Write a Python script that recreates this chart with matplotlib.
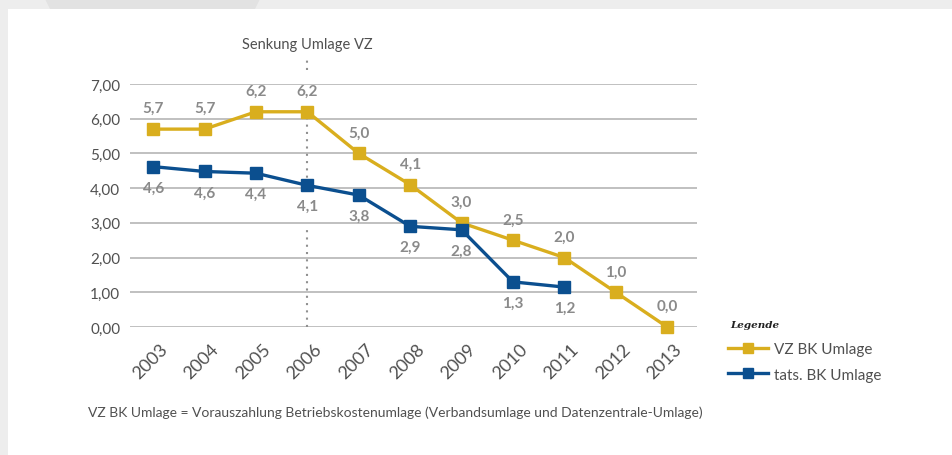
import matplotlib
matplotlib.use("Agg")
import matplotlib.pyplot as plt
import matplotlib.transforms as mtrans
from matplotlib.patches import Rectangle, Polygon
from matplotlib.lines import Line2D

years = ["2003", "2004", "2005", "2006", "2007", "2008", "2009", "2010", "2011", "2012", "2013"]
vz_values = [5.7, 5.7, 6.2, 6.2, 5.0, 4.1, 3.0, 2.5, 2.0, 1.0, 0.0]
vz_labels = ["5,7", "5,7", "6,2", "6,2", "5,0", "4,1", "3,0", "2,5", "2,0", "1,0", "0,0"]
tats_values = [4.62, 4.48, 4.43, 4.08, 3.80, 2.90, 2.80, 1.30, 1.15]
tats_labels = ["4,6", "4,6", "4,4", "4,1", "3,8", "2,9", "2,8", "1,3", "1,2"]
y_ticks = [0, 1, 2, 3, 4, 5, 6, 7]
y_ticklabels = ["0,00", "1,00", "2,00", "3,00", "4,00", "5,00", "6,00", "7,00"]
marker_year_index = 3

GOLD = "#D9AE1E"
BLUE = "#0B4F8F"
LABEL = "#8a8a8a"
TEXT = "#505050"
FONT = "Lato"

fig = plt.figure(figsize=(9.53, 4.56), dpi=100)
fig.patch.set_facecolor("#ededed")
# white page card
fig.patches.append(Rectangle((8 / 953, 0), 1, 1 - 10 / 456, transform=fig.transFigure,
                             facecolor="white", edgecolor="none", zorder=-2))
fig.patches.append(Polygon([(45 / 953, 1), (260 / 953, 1), (255 / 953, 1 - 10 / 456), (50 / 953, 1 - 10 / 456)],
                           closed=True, transform=fig.transFigure, facecolor="#e2e2e2", edgecolor="none", zorder=-2))

ax = fig.add_axes([130 / 953, 1 - 328 / 456, (697 - 130) / 953, (328 - 85) / 456])
ax.set_zorder(2)
ax.set_facecolor("none")
x = list(range(len(years)))
xt = x[:len(tats_values)]

ax.set_xlim(-0.45, 10.58)
ax.set_ylim(0, 7)
for s in ax.spines.values():
    s.set_visible(False)
ax.set_yticks(y_ticks)
ax.set_yticklabels(y_ticklabels, fontsize=11, color=TEXT, fontfamily=FONT)
ax.set_xticks(x)
ax.set_xticklabels(years, rotation=45, ha="right", va="center", rotation_mode="anchor",
                   fontsize=13, color=TEXT, fontfamily=FONT)
ax.tick_params(length=0, pad=7)
ax.tick_params(axis="x", pad=14)
off = mtrans.ScaledTranslation(12 / 100, 0, fig.dpi_scale_trans)
for lab in ax.get_xticklabels():
    lab.set_transform(lab.get_transform() + off)
ax.yaxis.grid(True, color="#b5b5b5", lw=1.2, zorder=0)
ax.set_axisbelow(True)

# dotted vertical marker at 2006 (with gaps around the value labels)
m = marker_year_index
dot = dict(ls=(0, (1, 2.5)), color="#909090", lw=1.5, clip_on=False, zorder=1)
ax.plot([m, m], [0, tats_values[m] - 1.25], **dot)
ax.plot([m, m], [tats_values[m], vz_values[m]], **dot)
ax.plot([m, m], [vz_values[m] + 1.2, 7.75], **dot)
ax.text(m, 8.15, "Senkung Umlage VZ", ha="center", va="center", fontsize=10.5,
        color=TEXT, fontfamily=FONT)

ax.plot(x, vz_values, color=GOLD, lw=2.4, marker="s", ms=8.5, zorder=3, clip_on=False)
ax.plot(xt, tats_values, color=BLUE, lw=2.4, marker="s", ms=8.5, zorder=4, clip_on=False)

for xi, v, lab in zip(x, vz_values, vz_labels):
    ax.annotate(lab, (xi, v), xytext=(0, 10), textcoords="offset points", ha="center", va="bottom",
                fontsize=11, fontweight="bold", color=LABEL, fontfamily=FONT)
for xi, v, lab in zip(xt, tats_values, tats_labels):
    ax.annotate(lab, (xi, v), xytext=(0, -10), textcoords="offset points", ha="center", va="top",
                fontsize=11, fontweight="bold", color=LABEL, fontfamily=FONT)

# legend
fig.text(730 / 953, 1 - 325 / 456, "Legende", fontsize=7.5, fontstyle="italic", fontweight="bold",
         fontfamily="DejaVu Serif", color="#222222", va="center")
handles = [Line2D([], [], color=GOLD, lw=2.4, marker="s", ms=7),
           Line2D([], [], color=BLUE, lw=2.4, marker="s", ms=7)]
leg = fig.legend(handles, ["VZ BK Umlage", "tats. BK Umlage"], loc="upper left",
                 bbox_to_anchor=(722 / 953, 1 - 337 / 456), frameon=False,
                 prop={"family": FONT, "size": 11}, handlelength=2.6, handletextpad=0.4,
                 labelspacing=0.75, borderaxespad=0)
for t in leg.get_texts():
    t.set_color(TEXT)

fig.text(88 / 953, 1 - 413 / 456, "VZ BK Umlage = Vorauszahlung Betriebskostenumlage (Verbandsumlage und Datenzentrale-Umlage)",
         fontsize=10, color=TEXT, fontfamily=FONT, va="center")

fig.savefig("out.png", dpi=100)
